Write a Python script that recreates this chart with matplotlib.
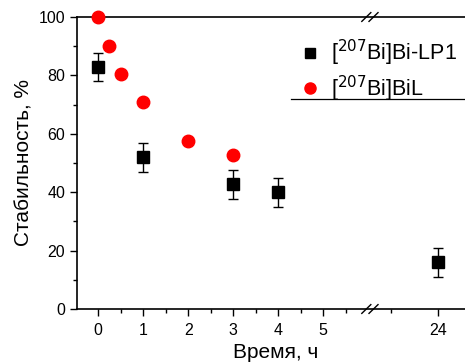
import numpy as np
import matplotlib.pyplot as plt
from matplotlib.lines import Line2D

plt.rcParams['font.family'] = ['Liberation Sans', 'DejaVu Sans']

# данни
lp1_time = [0, 1, 3, 4, 24]
lp1_val = [83, 52, 42.7, 40, 16]
lp1_err = [4.8, 5, 5, 5, 5]

bil_time = [0, 0.25, 0.5, 1, 2, 3]
bil_val = [100, 90, 80.5, 71, 57.5, 52.7]

major_ticks = [0, 1, 2, 3, 4, 5, 24]
tick_labels = ['0', '1', '2', '3', '4', '5', '24']

# прекъсната ос: 24 ч се рисува на позиция 7.56
def xpos(t):
    t = np.asarray(t, dtype=float)
    return np.where(t > 6, 7.56 + (t - 24) * 1.05, t)

fig = plt.figure(figsize=(4.65, 3.64), dpi=100)
ax = fig.add_axes([77 / 465, 55 / 364, 403.6 / 465, 292 / 364])

ax.errorbar(xpos(lp1_time), lp1_val, yerr=lp1_err, fmt='s', color='black',
            ms=8, ecolor='black', elinewidth=1, capsize=3.5, capthick=1,
            zorder=3)
ax.plot(xpos(bil_time), bil_val, 'o', color='#ff0000', ms=9,
        clip_on=False, zorder=3)

ax.set_xlim(-0.47, 8.5)
ax.set_ylim(0, 100)
ax.set_xticks(xpos(major_ticks))
ax.set_xticklabels(tick_labels)
ax.set_xticks([0.5, 1.5, 2.5, 3.5, 4.5, 5.5, 6.5], minor=True)
ax.set_yticks(range(0, 101, 20))
ax.set_yticks(range(10, 100, 20), minor=True)
ax.tick_params(which='major', direction='out', length=5, width=1, labelsize=11.5)
ax.tick_params(which='minor', direction='out', length=3, width=1)
ax.tick_params(axis='x', pad=5)

ax.spines['right'].set_visible(False)
for s in ['left', 'bottom', 'top']:
    ax.spines[s].set_linewidth(1.2)

# значки за прекъсване
trans = ax.get_xaxis_transform()
for yb in [0, 1]:
    for dx in [-0.08, 0.08]:
        ax.plot([6.04 + dx - 0.1, 6.04 + dx + 0.1], [yb - 0.015, yb + 0.015],
                color='black', lw=1, transform=trans, clip_on=False)

ax.set_ylabel('Стабильность, %', fontsize=15, labelpad=4)
ax.set_xlabel('Время, ч', fontsize=15)
ax.xaxis.set_label_coords((276 - 77) / 403.6, -0.118)

handles = [Line2D([], [], ls='none', marker='s', color='black', ms=7.5),
           Line2D([], [], ls='none', marker='o', color='#ff0000', ms=8)]
labels = [r'[$^{207}$Bi]Bi-LP1', r'[$^{207}$Bi]BiL']
ax.legend(handles, labels, loc='upper left', bbox_to_anchor=(301 / 465, 1 - 38 / 364),
          bbox_transform=fig.transFigure, frameon=False, fontsize=15.5,
          handlelength=0.8, handletextpad=0.6, labelspacing=0.25,
          borderaxespad=0, borderpad=0)

fig.add_artist(Line2D([291 / 465, 1.0], [1 - 99 / 364, 1 - 99 / 364],
                      color='black', lw=0.9))

plt.savefig('out.png', dpi=100)
